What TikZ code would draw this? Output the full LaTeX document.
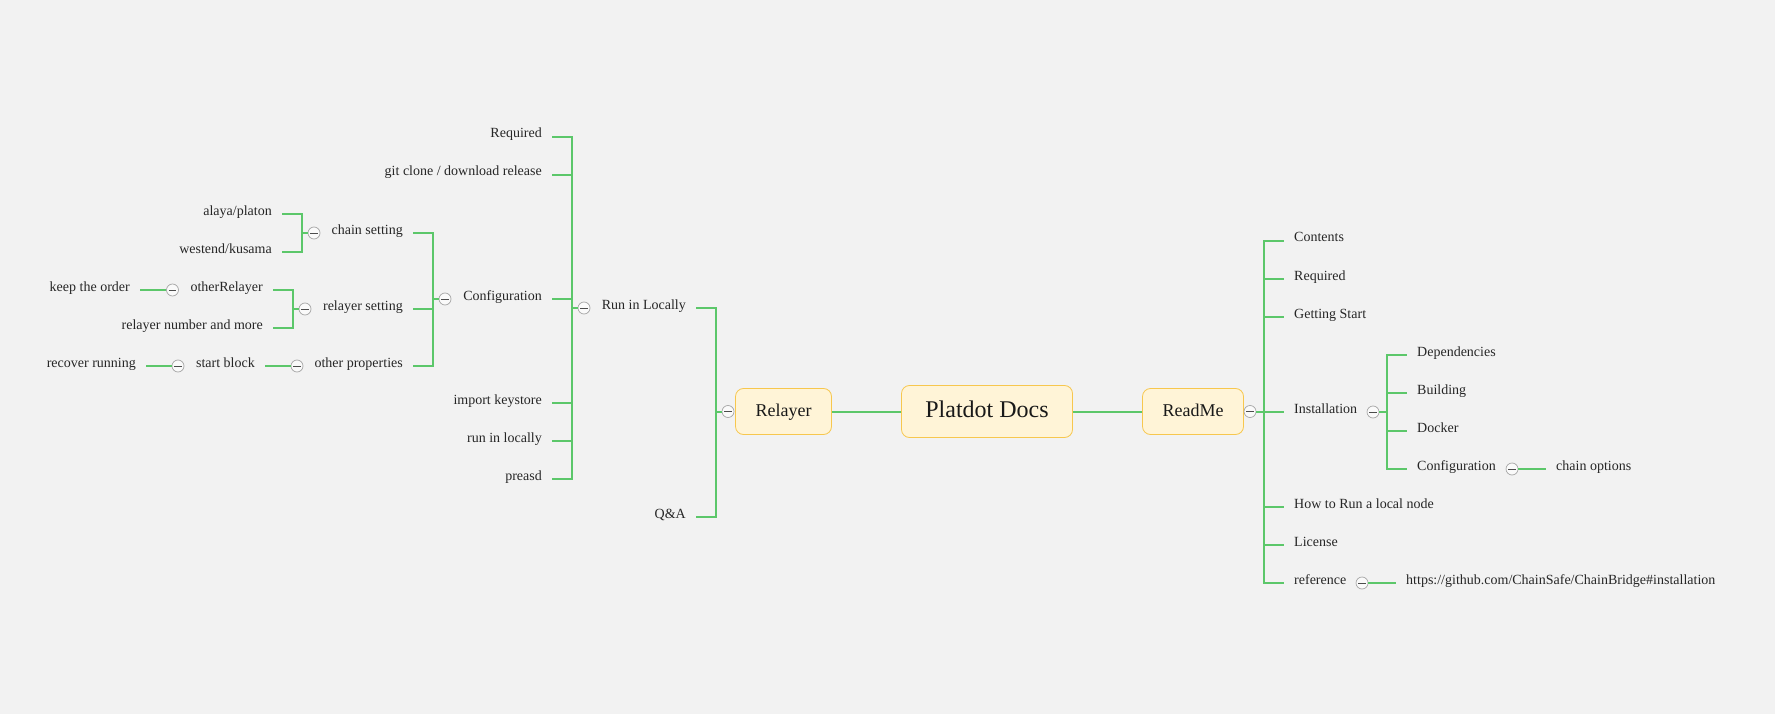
\documentclass[tikz,border=0pt]{standalone}
\usepackage{fontspec}
\setmainfont{Liberation Serif}
\definecolor{linkgreen}{HTML}{5CC76A}
\definecolor{boxfill}{HTML}{FFF4D7}
\definecolor{boxline}{HTML}{F7C74E}
\definecolor{paper}{HTML}{F2F2F2}
\begin{document}
\begin{tikzpicture}[x=1pt, y=-1pt,
  topic/.style={inner xsep=10pt, inner ysep=0pt, text height=10pt, text depth=8pt, font=\fontsize{14}{17}\selectfont, text=black!85},
  lt/.style={topic, anchor=east},
  rt/.style={topic, anchor=west},
  hub/.style={draw=boxline, fill=boxfill, rounded corners=8pt, line width=.8pt, text=black!90, text height=12pt, text depth=3pt, font=\fontsize{18}{22}\selectfont, minimum width=96pt, minimum height=46pt},
  fold/.style={circle, draw=gray!70, fill=white!96!gray, line width=.7pt, minimum size=12pt, inner sep=0pt, path picture={\draw[gray!60!black, line width=.7pt] ([xshift=-3.8pt]path picture bounding box.center) -- ([xshift=3.8pt]path picture bounding box.center);}},
  link/.style={draw=linkgreen, line width=2pt}]
\fill[paper] (0,0) rectangle (1775,714);
\node[hub, minimum width=171pt, minimum height=52pt, text height=16pt, text depth=5pt, font=\fontsize{24}{28}\selectfont] (root) at (987,411.5) {Platdot Docs};
\node[hub] (relayer) at (783.5,411.5) {Relayer};
\node[hub, minimum width=101pt] (readme) at (1193,411.5) {ReadMe};
\node[fold] (relayerf) at (728,411.5) {};
\node[lt] (runloc) at (696,308) {Run in Locally};
\node[lt] (qa) at (696,517) {Q\&A};
\node[fold] (runlocf) at (584,308) {};
\node[lt] (req) at (552,137) {Required};
\node[lt] (git) at (552,175) {git clone / download release};
\node[lt] (conf) at (552,299) {Configuration};
\node[lt] (keystore) at (552,403) {import keystore};
\node[lt] (runin) at (552,441) {run in locally};
\node[lt] (preasd) at (552,479) {preasd};
\node[fold] (conff) at (445,299) {};
\node[lt] (chain) at (413,233) {chain setting};
\node[lt] (rset) at (413,309) {relayer setting};
\node[lt] (other) at (413,366) {other properties};
\node[fold] (chainf) at (314,233) {};
\node[lt] (alaya) at (282,214) {alaya/platon};
\node[lt] (westend) at (282,252) {westend/kusama};
\node[fold] (rsetf) at (305,309) {};
\node[lt] (orelay) at (273,290) {otherRelayer};
\node[lt] (rnum) at (273,328) {relayer number and more};
\node[fold] (orelayf) at (172.5,290) {};
\node[lt] (order) at (140,290) {keep the order};
\node[fold] (otherf) at (297,366) {};
\node[lt] (start) at (265,366) {start block};
\node[fold] (startf) at (178,366) {};
\node[lt] (recover) at (146,366) {recover running};
\node[fold] (readmef) at (1250,411.5) {};
\node[rt] (contents) at (1284,241) {Contents};
\node[rt] (rreq) at (1284,279) {Required};
\node[rt] (getting) at (1284,317) {Getting Start};
\node[rt] (install) at (1284,412) {Installation};
\node[rt] (howto) at (1284,507) {How to Run a local node};
\node[rt] (license) at (1284,545) {License};
\node[rt] (ref) at (1284,583) {reference};
\node[fold] (installf) at (1373,412) {};
\node[rt] (deps) at (1407,355) {Dependencies};
\node[rt] (build) at (1407,393) {Building};
\node[rt] (docker) at (1407,431) {Docker};
\node[rt] (rconf) at (1407,469) {Configuration};
\node[fold] (rconff) at (1512,469) {};
\node[rt] (chainopt) at (1546,469) {chain options};
\node[fold] (reff) at (1362,583) {};
\node[rt] (url) at (1396,583) {https://github.com/ChainSafe/ChainBridge\#installation};
\draw[link] (relayer) -- (root) -- (readme);
\foreach \c in {runloc, qa} \draw[link] (relayerf.west) -- ++(-6,0) |- (\c.east);
\foreach \c in {req, git, conf, keystore, runin, preasd} \draw[link] (runlocf.west) -- ++(-6,0) |- (\c.east);
\foreach \c in {chain, rset, other} \draw[link] (conff.west) -- ++(-6,0) |- (\c.east);
\foreach \c in {alaya, westend} \draw[link] (chainf.west) -- ++(-6,0) |- (\c.east);
\foreach \c in {orelay, rnum} \draw[link] (rsetf.west) -- ++(-6,0) |- (\c.east);
\draw[link] (orelayf.west) -- (order.east);
\draw[link] (otherf.west) -- (start.east);
\draw[link] (startf.west) -- (recover.east);
\foreach \c in {contents, rreq, getting, install, howto, license, ref} \draw[link] (readmef.east) -- ++(8,0) |- (\c.west);
\foreach \c in {deps, build, docker, rconf} \draw[link] (installf.east) -- ++(8,0) |- (\c.west);
\draw[link] (rconff.east) -- (chainopt.west);
\draw[link] (reff.east) -- (url.west);
\end{tikzpicture}
\end{document}
